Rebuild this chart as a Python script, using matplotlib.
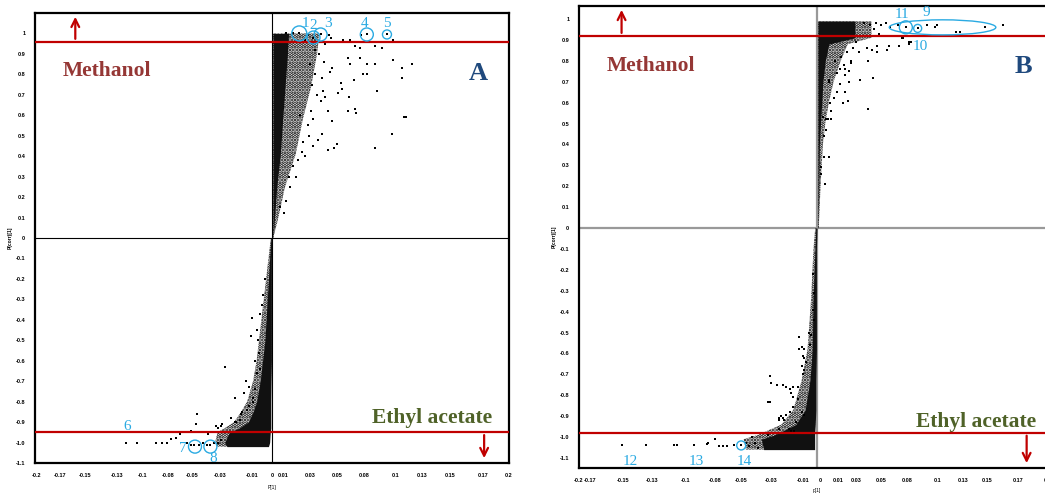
import numpy as np
import matplotlib.pyplot as plt
from matplotlib.patches import Ellipse

# ---------------- data ----------------
xtick_labels = ['-0.2', '-0.17', '-0.15', '-0.13', '-0.1', '-0.08', '-0.05', '-0.03', '-0.01', '0',
                '0.01', '0.03', '0.05', '0.08', '0.1', '0.13', '0.15', '0.17', '0.2']
ytick_values = [1, 0.9, 0.8, 0.7, 0.6, 0.5, 0.4, 0.3, 0.2, 0.1, 0,
                -0.1, -0.2, -0.3, -0.4, -0.5, -0.6, -0.7, -0.8, -0.9, -1.0, -1.1]
ytick_labels = ['1', '0.9', '0.8', '0.7', '0.6', '0.5', '0.4', '0.3', '0.2', '0.1', '0',
                '-0.1', '-0.2', '-0.3', '-0.4', '-0.5', '-0.6', '-0.7', '-0.8', '-0.9', '-1.0', '-1.1']

# panel A - dense core envelopes
a_up_y = [0.0, 0.09, 0.25, 0.41, 0.58, 0.74, 0.90, 1.0]
a_up_core = [0.001, 0.002, 0.004, 0.007, 0.009, 0.011, 0.013, 0.014]
a_up_halo = [0.001, 0.005, 0.011, 0.020, 0.026, 0.033, 0.038, 0.040]
a_lo_y = [0.0, -0.1, -0.2, -0.3, -0.4, -0.5, -0.6, -0.7, -0.8, -0.85, -0.9, -0.93, -0.95, -1.0, -1.02]
a_lo_left = [-0.001, -0.002, -0.003, -0.004, -0.005, -0.006, -0.008, -0.010, -0.013, -0.016,
             -0.020, -0.028, -0.036, -0.040, -0.038]
a_lo_halo = [-0.001, -0.003, -0.005, -0.007, -0.009, -0.011, -0.013, -0.016, -0.021, -0.026,
             -0.032, -0.040, -0.046, -0.048, -0.046]
a_lo_right = [0.0, -0.0005, -0.0005, -0.0005, -0.0005, -0.0005, -0.0005, -0.0008, -0.001, -0.001,
              -0.001, -0.001, -0.0015, -0.002, -0.003]

a_x = [0.023, 0.035, 0.041, 0.080, 0.097, 0.030, 0.028, 0.038, 0.045, 0.050, 0.055, 0.060, 0.066,
       0.070, 0.074, 0.087, 0.093, 0.102, 0.075, 0.018, 0.012, 0.048,
       0.102, 0.110, 0.118, 0.110, 0.064, 0.066, 0.074, 0.080, 0.087, 0.069, 0.077, 0.080, 0.089,
       0.065, 0.064, 0.070, 0.071, 0.111, 0.113, 0.101, 0.087, 0.055, 0.052, 0.047, 0.051, 0.042,
       0.039, 0.035, 0.058, 0.059, 0.056, 0.049, 0.051, 0.043, 0.041, 0.045,
       0.032, 0.036, 0.034, 0.038, 0.033, 0.030, 0.031, 0.025, 0.022, 0.028, 0.020, 0.015, 0.012,
       0.018, 0.026, 0.040, 0.044, 0.036, 0.042, 0.047, 0.024, 0.035, 0.010, 0.007, 0.014,
       -0.0087, -0.010, -0.017, -0.013, -0.018, -0.012, -0.040, -0.013, -0.010, -0.031, -0.019,
       -0.014, -0.016, -0.026, -0.025, -0.021, -0.019, -0.016, -0.031, -0.030, -0.027, -0.043,
       -0.046, -0.123, -0.114, -0.098, -0.093, -0.089, -0.085, -0.081, -0.078, -0.068, -0.064,
       -0.063, -0.054, -0.047, -0.042, -0.072, -0.068, -0.066, -0.062, -0.058, -0.055, -0.052,
       -0.049, -0.046, -0.043, -0.006, -0.008, -0.011, -0.014, -0.022, -0.024, -0.035, -0.038]
a_y = [1.0, 0.98, 0.995, 0.995, 0.995, 0.99, 0.97, 0.96, 0.95, 0.98, 0.96, 0.97, 0.97,
       0.94, 0.93, 0.94, 0.93, 0.97, 0.99, 1.0, 1.0, 0.99,
       0.87, 0.83, 0.85, 0.78, 0.88, 0.85, 0.88, 0.85, 0.85, 0.77, 0.80, 0.80, 0.72,
       0.69, 0.62, 0.63, 0.61, 0.59, 0.59, 0.51, 0.44, 0.46, 0.44, 0.43, 0.57, 0.51,
       0.48, 0.45, 0.76, 0.73, 0.71, 0.81, 0.83, 0.72, 0.67, 0.69,
       0.85, 0.80, 0.75, 0.70, 0.62, 0.55, 0.50, 0.42, 0.38, 0.40, 0.30, 0.25, 0.18,
       0.35, 0.47, 0.90, 0.86, 0.92, 0.78, 0.62, 0.60, 0.58, 0.12, 0.15, 0.30,
       -0.33, -0.37, -0.39, -0.45, -0.48, -0.50, -0.63, -0.66, -0.64, -0.78, -0.73,
       -0.74, -0.78, -0.86, -0.85, -0.84, -0.82, -0.80, -0.90, -0.90, -0.89, -0.92,
       -0.93, -1.0, -1.0, -1.0, -1.0, -1.0, -0.985, -0.977, -0.96, -0.945, -0.91,
       -0.86, -0.96, -0.92, -0.91, -1.0, -1.01, -1.01, -1.01, -1.0, -1.01, -1.01,
       -1.0, -1.0, -0.99, -0.20, -0.28, -0.56, -0.60, -0.70, -0.76, -0.88, -0.95]

# panel B - dense core envelopes
b_up_y = [0.0, 0.2, 0.4, 0.5, 0.6, 0.7, 0.8, 0.88, 0.91, 0.99]
b_up_core = [0.001, 0.0015, 0.002, 0.003, 0.004, 0.005, 0.007, 0.010, 0.032, 0.032]
b_up_halo = [0.0015, 0.003, 0.005, 0.007, 0.010, 0.014, 0.020, 0.026, 0.046, 0.046]
b_lo_y = [0.0, -0.1, -0.34, -0.58, -0.73, -0.87, -0.94, -0.99, -1.01, -1.06]
b_lo_left = [-0.001, -0.0017, -0.0034, -0.004, -0.006, -0.010, -0.018, -0.036, -0.047, -0.045]
b_lo_halo = [-0.0015, -0.003, -0.005, -0.008, -0.013, -0.020, -0.030, -0.050, -0.062, -0.060]
b_lo_right = [0.0, -0.0005, -0.0005, -0.0005, -0.001, -0.001, -0.0015, -0.002, -0.002, -0.002]

b_x = [0.045, 0.050, 0.054, 0.058, 0.062, 0.075, 0.085, 0.093, 0.101, 0.100, 0.117, 0.121, 0.125,
       0.142, 0.157, 0.068, 0.040, 0.048, 0.052, 0.044,
       0.0286, 0.0355, 0.0426, 0.0468, 0.051, 0.061, 0.059, 0.069, 0.073, 0.078, 0.029, 0.023,
       0.019, 0.017, 0.024, 0.027, 0.043, 0.036, 0.047, 0.027, 0.024, 0.019, 0.010, 0.010, 0.017,
       0.024, 0.026, 0.022, 0.043, 0.012, 0.009, 0.012, 0.0076, 0.005, 0.008, 0.006, 0.006, 0.010,
       0.003, 0.003, 0.007, 0.072, 0.079, 0.078, 0.051, 0.030, 0.025, 0.020, 0.015, 0.033, 0.014,
       0.011,
       -0.0149, -0.013, -0.015, -0.011, -0.0065, -0.005, -0.0056, -0.012, -0.011, -0.009, -0.013,
       -0.011, -0.012, -0.040, -0.039, -0.034, -0.029, -0.026, -0.023, -0.020, -0.016, -0.022,
       -0.020, -0.016, -0.040, -0.020, -0.023, -0.026, -0.029, -0.032, -0.013, -0.011, -0.018,
       -0.032, -0.022, -0.0036, -0.0023, -0.0036, -0.0023, -0.165, -0.144, -0.121, -0.118, -0.104,
       -0.093, -0.092, -0.083, -0.079, -0.076, -0.064, -0.088, -0.086, -0.055, -0.041, -0.041,
       -0.032, -0.030, -0.028, -0.024, -0.019, -0.070, -0.060, -0.057, -0.052, -0.050]
b_y = [0.97, 0.98, 0.97, 0.98, 0.96, 0.96, 0.955, 0.97, 0.97, 0.96, 0.94, 0.94, 0.92,
       0.96, 0.97, 0.97, 0.98, 0.95, 0.93, 0.92,
       0.79, 0.84, 0.86, 0.85, 0.84, 0.87, 0.85, 0.87, 0.91, 0.89, 0.80, 0.78,
       0.76, 0.74, 0.76, 0.75, 0.80, 0.71, 0.72, 0.70, 0.73, 0.69, 0.71, 0.70, 0.65,
       0.65, 0.61, 0.60, 0.57, 0.56, 0.52, 0.52, 0.52, 0.53, 0.47, 0.44, 0.34, 0.34,
       0.29, 0.26, 0.21, 0.91, 0.89, 0.88, 0.87, 0.86, 0.84, 0.82, 0.80, 0.89, 0.62,
       0.60,
       -0.52, -0.57, -0.58, -0.58, -0.50, -0.51, -0.56, -0.61, -0.62, -0.64, -0.66,
       -0.68, -0.70, -0.71, -0.74, -0.75, -0.75, -0.76, -0.77, -0.76, -0.76, -0.79,
       -0.81, -0.82, -0.83, -0.855, -0.88, -0.895, -0.91, -0.92, -0.88, -0.895, -0.93,
       -0.96, -0.97, -0.22, -0.31, -0.39, -0.44, -1.04, -1.04, -1.04, -1.04, -1.04,
       -1.035, -1.03, -1.045, -1.045, -1.045, -1.04, -0.98, -1.01, -1.0, -0.99, -0.83,
       -0.91, -0.90, -0.92, -0.96, -0.97, -1.04, -1.03, -1.045, -1.03, -1.05]

# highlighted variables
a_mark_x = [0.023, 0.035, 0.041, 0.080, 0.097, -0.065, -0.052]
a_mark_y = [1.0, 0.98, 0.995, 0.995, 0.995, -1.02, -1.02]
a_mark_d = [15, 13, 13, 13, 9, 13, 13]
a_num = ['1', '2', '3', '4', '5', '6', '7', '8']
a_num_x = [0.028, 0.035, 0.047, 0.078, 0.097, -0.122, -0.075, -0.050]
a_num_y = [1.05, 1.04, 1.05, 1.05, 1.05, -0.92, -1.03, -1.08]

b_mark_x = [0.075, 0.085, -0.064]
b_mark_y = [0.96, 0.955, -1.04]
b_mark_d = [13, 8, 9]
b_num = ['11', '9', '10', '12', '13', '14']
b_num_x = [0.072, 0.092, 0.087, -0.158, -0.102, -0.061]
b_num_y = [1.02, 1.03, 0.87, -1.115, -1.115, -1.115]

a_xticks = [-0.199, -0.179, -0.158, -0.131, -0.109, -0.088, -0.067, -0.044, -0.017, 0,
            0.009, 0.032, 0.055, 0.078, 0.104, 0.127, 0.150, 0.178, 0.2]
b_xticks = [-0.201, -0.192, -0.164, -0.139, -0.111, -0.086, -0.064, -0.039, -0.012, 0.003,
            0.018, 0.033, 0.054, 0.076, 0.102, 0.123, 0.144, 0.170, 0.195]

RED = '#C00000'
BLUE = '#2AAAE2'

plt.rcParams['font.family'] = ['Liberation Sans', 'DejaVu Sans']
plt.rcParams['hatch.linewidth'] = 1.8
fig = plt.figure(figsize=(10.45, 4.94), dpi=100)

axA = fig.add_axes([0.0335, 0.0628, 0.4536, 0.9109])
axB = fig.add_axes([0.554, 0.0526, 0.4545, 0.9352])


def setup(ax, xt, ylim, zero_col, zero_lw):
    ax.set_xlim(-0.2, 0.2)
    ax.set_ylim(*ylim)
    ax.axhline(0, color=zero_col, lw=zero_lw, zorder=1)
    ax.axvline(0, color=zero_col, lw=zero_lw, zorder=1)
    ax.set_xticks(xt)
    ax.set_xticklabels(xtick_labels, fontsize=4, fontweight='bold')
    ax.set_yticks(ytick_values)
    ax.set_yticklabels(ytick_labels, fontsize=4, fontweight='bold')
    ax.tick_params(length=0, pad=7)
    for s in ax.spines.values():
        s.set_linewidth(1.6)
        s.set_color('black')


def cloud(ax, y, left, right, dense):
    # speckled halo drawn with a dot hatch, solid dark core on top
    if dense:
        ax.fill_betweenx(y, left, right, color='#111111', lw=0, zorder=2)
    else:
        ax.fill_betweenx(y, left, right, facecolor='none', edgecolor='black', hatch='.....',
                         lw=0, zorder=2)


setup(axA, a_xticks, (-1.1, 1.1), 'black', 0.8)
setup(axB, b_xticks, (-1.148, 1.062), '#999999', 1.6)
axA.set_xlabel('P[1]', fontsize=3.5, labelpad=5)
axA.set_ylabel('P(corr)[1]', fontsize=3.5, fontweight='bold', labelpad=2)
axB.set_xlabel('p[1]', fontsize=3.5, labelpad=4)
axB.set_ylabel('P(corr)[1]', fontsize=3.5, fontweight='bold', labelpad=2)

# dense cores
cloud(axA, a_up_y, 0.0008, a_up_halo, False)
cloud(axA, a_up_y, 0.0008, a_up_core, True)
cloud(axA, a_lo_y, a_lo_halo, a_lo_right, False)
cloud(axA, a_lo_y, a_lo_left, a_lo_right, True)
cloud(axB, b_up_y, 0.0008, b_up_halo, False)
cloud(axB, b_up_y, 0.0008, b_up_core, True)
cloud(axB, b_lo_y, b_lo_halo, b_lo_right, False)
cloud(axB, b_lo_y, b_lo_left, b_lo_right, True)

axA.scatter(a_x, a_y, s=3, marker='s', color='black', linewidths=0, zorder=3)
axB.scatter(b_x, b_y, s=3, marker='s', color='black', linewidths=0, zorder=3)

# thresholds and arrows
for ax, top, bot, xa, xb in [(axA, 0.96, -0.95, -0.166, 0.179), (axB, 0.92, -0.98, -0.165, 0.177)]:
    ax.axhline(top, color=RED, lw=1.6, zorder=4)
    ax.axhline(bot, color=RED, lw=1.6, zorder=4)
    ylo, yhi = ax.get_ylim()
    ax.annotate('', xy=(xa, yhi - 0.005), xytext=(xa, top),
                arrowprops=dict(arrowstyle='->', color=RED, lw=1.6, mutation_scale=14), zorder=4)
    ax.annotate('', xy=(xb, ylo + 0.01), xytext=(xb, bot),
                arrowprops=dict(arrowstyle='->', color=RED, lw=1.6, mutation_scale=14), zorder=4)
    ax.text(0.0583, 0.87, 'Methanol', transform=ax.transAxes, fontsize=15.5, fontweight='bold',
            family='Liberation Serif', color='#953735', va='center', ha='left')
    ax.text(0.71, 0.10, 'Ethyl acetate', transform=ax.transAxes, fontsize=15.5, fontweight='bold',
            family='Liberation Serif', color='#4F6228', va='center', ha='left')

axA.text(0.935, 0.865, 'A', transform=axA.transAxes, fontsize=19, fontweight='bold',
         family='Liberation Serif', color='#1F497D', ha='center', va='center')
axB.text(0.935, 0.87, 'B', transform=axB.transAxes, fontsize=19, fontweight='bold',
         family='Liberation Serif', color='#1F497D', ha='center', va='center')

# highlighted variables
axA.scatter(a_mark_x, a_mark_y, s=(np.array(a_mark_d) * 0.72) ** 2, facecolors='none',
            edgecolors=BLUE, linewidths=1.0, zorder=5)
axB.scatter(b_mark_x, b_mark_y, s=(np.array(b_mark_d) * 0.72) ** 2, facecolors='none',
            edgecolors=BLUE, linewidths=1.0, zorder=5)
axB.add_patch(Ellipse((0.106, 0.96), 0.090, 0.072, fill=False, edgecolor=BLUE, lw=1.0, zorder=5))
for t, x, y in zip(a_num, a_num_x, a_num_y):
    axA.text(x, y, t, fontsize=11, family='Liberation Serif', color=BLUE, ha='center', va='center', zorder=6)
for t, x, y in zip(b_num, b_num_x, b_num_y):
    axB.text(x, y, t, fontsize=11, family='Liberation Serif', color=BLUE, ha='center', va='center', zorder=6)

fig.savefig('out.png', dpi=100)
